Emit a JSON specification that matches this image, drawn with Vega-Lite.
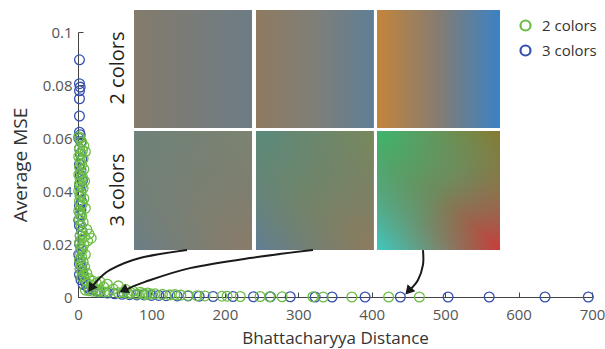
{
  "$schema": "https://vega.github.io/schema/vega-lite/v6.json",
  "width": 514,
  "height": 265,
  "autosize": {"type": "none"},
  "padding": {"left": 78, "top": 32, "right": 13, "bottom": 52},
  "background": "white",
  "config": {
    "view": {"stroke": null},
    "font": "Open Sans",
    "axis": {"grid": false, "domainColor": "#444", "tickColor": "#444", "labelColor": "#555", "titleColor": "#333", "labelFontSize": 15, "titleFontWeight": "normal", "labelFont": "Open Sans", "titleFont": "Open Sans"}
  },
  "datasets": {
    "pts": [
      {"series": "3 colors", "dist": 2, "mse": 0.0895},
      {"series": "3 colors", "dist": 2, "mse": 0.0805},
      {"series": "3 colors", "dist": 3, "mse": 0.0792},
      {"series": "3 colors", "dist": 2, "mse": 0.0778},
      {"series": "3 colors", "dist": 2, "mse": 0.0748},
      {"series": "3 colors", "dist": 2, "mse": 0.0683},
      {"series": "3 colors", "dist": 2, "mse": 0.0622},
      {"series": "3 colors", "dist": 3, "mse": 0.0612},
      {"series": "3 colors", "dist": 1, "mse": 0.06},
      {"series": "3 colors", "dist": 4, "mse": 0.0585},
      {"series": "3 colors", "dist": 2, "mse": 0.056},
      {"series": "3 colors", "dist": 3, "mse": 0.054},
      {"series": "3 colors", "dist": 5, "mse": 0.052},
      {"series": "3 colors", "dist": 2, "mse": 0.05},
      {"series": "3 colors", "dist": 4, "mse": 0.048},
      {"series": "3 colors", "dist": 3, "mse": 0.046},
      {"series": "3 colors", "dist": 6, "mse": 0.044},
      {"series": "3 colors", "dist": 2, "mse": 0.042},
      {"series": "3 colors", "dist": 4, "mse": 0.04},
      {"series": "3 colors", "dist": 3, "mse": 0.038},
      {"series": "3 colors", "dist": 5, "mse": 0.036},
      {"series": "3 colors", "dist": 2, "mse": 0.0345},
      {"series": "3 colors", "dist": 4, "mse": 0.033},
      {"series": "3 colors", "dist": 3, "mse": 0.031},
      {"series": "3 colors", "dist": 1, "mse": 0.029},
      {"series": "3 colors", "dist": 2, "mse": 0.027},
      {"series": "3 colors", "dist": 5, "mse": 0.025},
      {"series": "3 colors", "dist": 3, "mse": 0.023},
      {"series": "3 colors", "dist": 2, "mse": 0.02},
      {"series": "3 colors", "dist": 4, "mse": 0.018},
      {"series": "3 colors", "dist": 1, "mse": 0.016},
      {"series": "3 colors", "dist": 3, "mse": 0.014},
      {"series": "3 colors", "dist": 2, "mse": 0.0125},
      {"series": "3 colors", "dist": 5, "mse": 0.0115},
      {"series": "3 colors", "dist": 3, "mse": 0.0105},
      {"series": "3 colors", "dist": 6, "mse": 0.0095},
      {"series": "3 colors", "dist": 2, "mse": 0.0085},
      {"series": "3 colors", "dist": 8, "mse": 0.0075},
      {"series": "3 colors", "dist": 4, "mse": 0.0065},
      {"series": "3 colors", "dist": 10, "mse": 0.0055},
      {"series": "3 colors", "dist": 7, "mse": 0.0048},
      {"series": "3 colors", "dist": 12, "mse": 0.004},
      {"series": "3 colors", "dist": 15, "mse": 0.0032},
      {"series": "3 colors", "dist": 20, "mse": 0.0028},
      {"series": "3 colors", "dist": 25, "mse": 0.0022},
      {"series": "3 colors", "dist": 30, "mse": 0.0018},
      {"series": "3 colors", "dist": 40, "mse": 0.0015},
      {"series": "3 colors", "dist": 50, "mse": 0.0012},
      {"series": "3 colors", "dist": 60, "mse": 0.001},
      {"series": "3 colors", "dist": 70, "mse": 0.0009},
      {"series": "3 colors", "dist": 80, "mse": 0.0008},
      {"series": "3 colors", "dist": 90, "mse": 0.0008},
      {"series": "3 colors", "dist": 100, "mse": 0.0006},
      {"series": "3 colors", "dist": 110, "mse": 0.0006},
      {"series": "3 colors", "dist": 120, "mse": 0.0005},
      {"series": "3 colors", "dist": 135, "mse": 0.0004},
      {"series": "3 colors", "dist": 150, "mse": 0.0004},
      {"series": "3 colors", "dist": 165, "mse": 0.0003},
      {"series": "3 colors", "dist": 184, "mse": 0.0002},
      {"series": "3 colors", "dist": 211, "mse": 0.0002},
      {"series": "3 colors", "dist": 239, "mse": 0.0001},
      {"series": "3 colors", "dist": 262, "mse": 0.0001},
      {"series": "3 colors", "dist": 289, "mse": 0.0001},
      {"series": "3 colors", "dist": 323, "mse": 0.0},
      {"series": "3 colors", "dist": 346, "mse": 0.0},
      {"series": "3 colors", "dist": 391, "mse": 0.0},
      {"series": "3 colors", "dist": 439, "mse": 0.0},
      {"series": "3 colors", "dist": 504, "mse": 0.0},
      {"series": "3 colors", "dist": 560, "mse": 0.0},
      {"series": "3 colors", "dist": 636, "mse": 0.0},
      {"series": "3 colors", "dist": 695, "mse": 0.0},
      {"series": "2 colors", "dist": 1, "mse": 0.0605},
      {"series": "2 colors", "dist": 3, "mse": 0.0598},
      {"series": "2 colors", "dist": 5, "mse": 0.0585},
      {"series": "2 colors", "dist": 8, "mse": 0.057},
      {"series": "2 colors", "dist": 2, "mse": 0.056},
      {"series": "2 colors", "dist": 6, "mse": 0.0553},
      {"series": "2 colors", "dist": 10, "mse": 0.0548},
      {"series": "2 colors", "dist": 4, "mse": 0.054},
      {"series": "2 colors", "dist": 1, "mse": 0.053},
      {"series": "2 colors", "dist": 7, "mse": 0.0522},
      {"series": "2 colors", "dist": 3, "mse": 0.0512},
      {"series": "2 colors", "dist": 5, "mse": 0.05},
      {"series": "2 colors", "dist": 2, "mse": 0.049},
      {"series": "2 colors", "dist": 8, "mse": 0.0482},
      {"series": "2 colors", "dist": 4, "mse": 0.047},
      {"series": "2 colors", "dist": 1, "mse": 0.0462},
      {"series": "2 colors", "dist": 6, "mse": 0.0452},
      {"series": "2 colors", "dist": 3, "mse": 0.0445},
      {"series": "2 colors", "dist": 9, "mse": 0.0437},
      {"series": "2 colors", "dist": 2, "mse": 0.0428},
      {"series": "2 colors", "dist": 5, "mse": 0.042},
      {"series": "2 colors", "dist": 7, "mse": 0.041},
      {"series": "2 colors", "dist": 1, "mse": 0.04},
      {"series": "2 colors", "dist": 4, "mse": 0.0392},
      {"series": "2 colors", "dist": 3, "mse": 0.0382},
      {"series": "2 colors", "dist": 8, "mse": 0.0372},
      {"series": "2 colors", "dist": 2, "mse": 0.0362},
      {"series": "2 colors", "dist": 6, "mse": 0.0352},
      {"series": "2 colors", "dist": 4, "mse": 0.0343},
      {"series": "2 colors", "dist": 10, "mse": 0.0335},
      {"series": "2 colors", "dist": 1, "mse": 0.0325},
      {"series": "2 colors", "dist": 3, "mse": 0.0315},
      {"series": "2 colors", "dist": 5, "mse": 0.0305},
      {"series": "2 colors", "dist": 2, "mse": 0.0292},
      {"series": "2 colors", "dist": 7, "mse": 0.0282},
      {"series": "2 colors", "dist": 4, "mse": 0.027},
      {"series": "2 colors", "dist": 12, "mse": 0.0255},
      {"series": "2 colors", "dist": 6, "mse": 0.0245},
      {"series": "2 colors", "dist": 15, "mse": 0.0238},
      {"series": "2 colors", "dist": 3, "mse": 0.0232},
      {"series": "2 colors", "dist": 9, "mse": 0.0228},
      {"series": "2 colors", "dist": 18, "mse": 0.0222},
      {"series": "2 colors", "dist": 5, "mse": 0.0218},
      {"series": "2 colors", "dist": 13, "mse": 0.0212},
      {"series": "2 colors", "dist": 2, "mse": 0.0205},
      {"series": "2 colors", "dist": 8, "mse": 0.0198},
      {"series": "2 colors", "dist": 4, "mse": 0.0188},
      {"series": "2 colors", "dist": 6, "mse": 0.0178},
      {"series": "2 colors", "dist": 3, "mse": 0.0168},
      {"series": "2 colors", "dist": 10, "mse": 0.016},
      {"series": "2 colors", "dist": 5, "mse": 0.015},
      {"series": "2 colors", "dist": 2, "mse": 0.014},
      {"series": "2 colors", "dist": 7, "mse": 0.0132},
      {"series": "2 colors", "dist": 4, "mse": 0.0122},
      {"series": "2 colors", "dist": 9, "mse": 0.0114},
      {"series": "2 colors", "dist": 3, "mse": 0.0106},
      {"series": "2 colors", "dist": 6, "mse": 0.0098},
      {"series": "2 colors", "dist": 12, "mse": 0.009},
      {"series": "2 colors", "dist": 8, "mse": 0.0082},
      {"series": "2 colors", "dist": 5, "mse": 0.0075},
      {"series": "2 colors", "dist": 15, "mse": 0.007},
      {"series": "2 colors", "dist": 10, "mse": 0.0064},
      {"series": "2 colors", "dist": 20, "mse": 0.006},
      {"series": "2 colors", "dist": 30, "mse": 0.0058},
      {"series": "2 colors", "dist": 25, "mse": 0.0052},
      {"series": "2 colors", "dist": 40, "mse": 0.0048},
      {"series": "2 colors", "dist": 18, "mse": 0.0045},
      {"series": "2 colors", "dist": 55, "mse": 0.0042},
      {"series": "2 colors", "dist": 35, "mse": 0.0038},
      {"series": "2 colors", "dist": 22, "mse": 0.0034},
      {"series": "2 colors", "dist": 48, "mse": 0.003},
      {"series": "2 colors", "dist": 65, "mse": 0.0028},
      {"series": "2 colors", "dist": 10, "mse": 0.0026},
      {"series": "2 colors", "dist": 30, "mse": 0.0025},
      {"series": "2 colors", "dist": 15, "mse": 0.0024},
      {"series": "2 colors", "dist": 75, "mse": 0.0022},
      {"series": "2 colors", "dist": 20, "mse": 0.0022},
      {"series": "2 colors", "dist": 42, "mse": 0.002},
      {"series": "2 colors", "dist": 28, "mse": 0.002},
      {"series": "2 colors", "dist": 85, "mse": 0.0018},
      {"series": "2 colors", "dist": 36, "mse": 0.0019},
      {"series": "2 colors", "dist": 55, "mse": 0.0016},
      {"series": "2 colors", "dist": 62, "mse": 0.0018},
      {"series": "2 colors", "dist": 95, "mse": 0.0015},
      {"series": "2 colors", "dist": 68, "mse": 0.0013},
      {"series": "2 colors", "dist": 72, "mse": 0.0016},
      {"series": "2 colors", "dist": 105, "mse": 0.0012},
      {"series": "2 colors", "dist": 80, "mse": 0.0011},
      {"series": "2 colors", "dist": 88, "mse": 0.0013},
      {"series": "2 colors", "dist": 115, "mse": 0.001},
      {"series": "2 colors", "dist": 92, "mse": 0.0009},
      {"series": "2 colors", "dist": 100, "mse": 0.0011},
      {"series": "2 colors", "dist": 125, "mse": 0.0008},
      {"series": "2 colors", "dist": 132, "mse": 0.0009},
      {"series": "2 colors", "dist": 140, "mse": 0.0007},
      {"series": "2 colors", "dist": 150, "mse": 0.0006},
      {"series": "2 colors", "dist": 162, "mse": 0.0005},
      {"series": "2 colors", "dist": 173, "mse": 0.0004},
      {"series": "2 colors", "dist": 196, "mse": 0.0003},
      {"series": "2 colors", "dist": 203, "mse": 0.0003},
      {"series": "2 colors", "dist": 221, "mse": 0.0002},
      {"series": "2 colors", "dist": 248, "mse": 0.0002},
      {"series": "2 colors", "dist": 261, "mse": 0.0001},
      {"series": "2 colors", "dist": 278, "mse": 0.0001},
      {"series": "2 colors", "dist": 320, "mse": 0.0001},
      {"series": "2 colors", "dist": 334, "mse": 0.0},
      {"series": "2 colors", "dist": 373, "mse": 0.0},
      {"series": "2 colors", "dist": 423, "mse": 0.0},
      {"series": "2 colors", "dist": 465, "mse": 0.0}
    ],
    "panels": [
      {"panel": "tl", "x1": 76.3, "x2": 237, "y1": 0.0638, "y2": 0.1083},
      {"panel": "tm", "x1": 242.4, "x2": 403, "y1": 0.0638, "y2": 0.1083},
      {"panel": "tr", "x1": 407.2, "x2": 574.7, "y1": 0.0638, "y2": 0.1083},
      {"panel": "bl", "x1": 76.3, "x2": 237, "y1": 0.0177, "y2": 0.0626},
      {"panel": "bm", "x1": 242.4, "x2": 403, "y1": 0.0177, "y2": 0.0626},
      {"panel": "br", "x1": 407.2, "x2": 574.7, "y1": 0.0177, "y2": 0.0626}
    ],
    "rowlabels": [
      {"label": "2 colors", "x": 54.5, "y": 0.0864},
      {"label": "3 colors", "x": 54.5, "y": 0.0404}
    ],
    "arrows": [
      {"arrow": "a1", "k": 0, "x": 148.4, "y": 0.0177},
      {"arrow": "a1", "k": 1, "x": 84.4, "y": 0.0147},
      {"arrow": "a1", "k": 2, "x": 43.6, "y": 0.0102},
      {"arrow": "a1", "k": 3, "x": 23.2, "y": 0.0053},
      {"arrow": "a1", "k": 4, "x": 18.5, "y": 0.0035},
      {"arrow": "a2", "k": 0, "x": 320, "y": 0.0177},
      {"arrow": "a2", "k": 1, "x": 234, "y": 0.0147},
      {"arrow": "a2", "k": 2, "x": 152.5, "y": 0.0109},
      {"arrow": "a2", "k": 3, "x": 91.2, "y": 0.0057},
      {"arrow": "a2", "k": 4, "x": 64, "y": 0.0026},
      {"arrow": "a3", "k": 0, "x": 469.8, "y": 0.0177},
      {"arrow": "a3", "k": 1, "x": 469.8, "y": 0.0121},
      {"arrow": "a3", "k": 2, "x": 463, "y": 0.0064},
      {"arrow": "a3", "k": 3, "x": 451, "y": 0.0024}
    ],
    "heads": [
      {"arrow": "a1", "x": 17.5, "y": 0.0033},
      {"arrow": "a2", "x": 62, "y": 0.0025},
      {"arrow": "a3", "x": 450, "y": 0.0022}
    ]
  },
  "layer": [
    {
      "data": {"name": "panels"},
      "transform": [{"filter": "datum.panel == 'tl'"}],
      "mark": {"type": "rect", "fill": {"gradient": "linear", "x1": 0, "y1": 0, "x2": 1, "y2": 0, "stops": [{"offset": 0, "color": "#847b6c"}, {"offset": 1, "color": "#6d7c85"}]}},
      "encoding": {"x": {"field": "x1", "type": "quantitative", "scale": {"domain": [0, 700], "nice": false}}, "x2": {"field": "x2"}, "y": {"field": "y1", "type": "quantitative", "scale": {"domain": [0, 0.1], "nice": false}}, "y2": {"field": "y2"}}
    },
    {
      "data": {"name": "panels"},
      "transform": [{"filter": "datum.panel == 'tm'"}],
      "mark": {"type": "rect", "fill": {"gradient": "linear", "x1": 0, "y1": 0, "x2": 1, "y2": 0, "stops": [{"offset": 0, "color": "#8f7a60"}, {"offset": 0.5, "color": "#7f7f78"}, {"offset": 1, "color": "#5f7e96"}]}},
      "encoding": {"x": {"field": "x1", "type": "quantitative"}, "x2": {"field": "x2"}, "y": {"field": "y1", "type": "quantitative"}, "y2": {"field": "y2"}}
    },
    {
      "data": {"name": "panels"},
      "transform": [{"filter": "datum.panel == 'tr'"}],
      "mark": {"type": "rect", "fill": {"gradient": "linear", "x1": 0, "y1": 0, "x2": 1, "y2": 0, "stops": [{"offset": 0, "color": "#c4853a"}, {"offset": 0.5, "color": "#857c72"}, {"offset": 1, "color": "#3a82c4"}]}},
      "encoding": {"x": {"field": "x1", "type": "quantitative"}, "x2": {"field": "x2"}, "y": {"field": "y1", "type": "quantitative"}, "y2": {"field": "y2"}}
    },
    {
      "data": {"name": "panels"},
      "transform": [{"filter": "datum.panel == 'bl'"}],
      "mark": {"type": "rect", "fill": {"gradient": "linear", "x1": 0, "y1": 0, "x2": 1, "y2": 1, "stops": [{"offset": 0, "color": "#6e8279"}, {"offset": 0.5, "color": "#798073"}, {"offset": 1, "color": "#8a7b6a"}]}},
      "encoding": {"x": {"field": "x1", "type": "quantitative"}, "x2": {"field": "x2"}, "y": {"field": "y1", "type": "quantitative"}, "y2": {"field": "y2"}}
    },
    {
      "data": {"name": "panels"},
      "transform": [{"filter": "datum.panel == 'bl'"}],
      "mark": {"type": "rect", "fill": {"gradient": "linear", "x1": 0, "y1": 1, "x2": 1, "y2": 0, "stops": [{"offset": 0, "color": "rgba(100,124,142,0.7)"}, {"offset": 0.5, "color": "rgba(120,128,115,0)"}, {"offset": 1, "color": "rgba(128,134,108,0.5)"}]}},
      "encoding": {"x": {"field": "x1", "type": "quantitative"}, "x2": {"field": "x2"}, "y": {"field": "y1", "type": "quantitative"}, "y2": {"field": "y2"}}
    },
    {
      "data": {"name": "panels"},
      "transform": [{"filter": "datum.panel == 'bm'"}],
      "mark": {"type": "rect", "fill": {"gradient": "linear", "x1": 0, "y1": 0, "x2": 1, "y2": 1, "stops": [{"offset": 0, "color": "#5a8a7c"}, {"offset": 0.5, "color": "#728468"}, {"offset": 1, "color": "#8e7a5f"}]}},
      "encoding": {"x": {"field": "x1", "type": "quantitative"}, "x2": {"field": "x2"}, "y": {"field": "y1", "type": "quantitative"}, "y2": {"field": "y2"}}
    },
    {
      "data": {"name": "panels"},
      "transform": [{"filter": "datum.panel == 'bm'"}],
      "mark": {"type": "rect", "fill": {"gradient": "linear", "x1": 0, "y1": 1, "x2": 1, "y2": 0, "stops": [{"offset": 0, "color": "rgba(92,124,162,0.8)"}, {"offset": 0.5, "color": "rgba(110,130,110,0)"}, {"offset": 1, "color": "rgba(126,140,82,0.6)"}]}},
      "encoding": {"x": {"field": "x1", "type": "quantitative"}, "x2": {"field": "x2"}, "y": {"field": "y1", "type": "quantitative"}, "y2": {"field": "y2"}}
    },
    {
      "data": {"name": "panels"},
      "transform": [{"filter": "datum.panel == 'br'"}],
      "mark": {"type": "rect", "fill": {"gradient": "linear", "x1": 0, "y1": 0, "x2": 1, "y2": 1, "stops": [{"offset": 0, "color": "#3db66c"}, {"offset": 0.5, "color": "#6f8a5c"}, {"offset": 1, "color": "#c83c3a"}]}},
      "encoding": {"x": {"field": "x1", "type": "quantitative"}, "x2": {"field": "x2"}, "y": {"field": "y1", "type": "quantitative"}, "y2": {"field": "y2"}}
    },
    {
      "data": {"name": "panels"},
      "transform": [{"filter": "datum.panel == 'br'"}],
      "mark": {"type": "rect", "fill": {"gradient": "linear", "x1": 0, "y1": 1, "x2": 1, "y2": 0, "stops": [{"offset": 0, "color": "rgba(60,205,200,0.95)"}, {"offset": 0.5, "color": "rgba(100,150,110,0)"}, {"offset": 1, "color": "rgba(138,120,40,0.85)"}]}},
      "encoding": {"x": {"field": "x1", "type": "quantitative"}, "x2": {"field": "x2"}, "y": {"field": "y1", "type": "quantitative"}, "y2": {"field": "y2"}}
    },
    {
      "data": {"name": "rowlabels"},
      "mark": {"type": "text", "angle": 270, "fontSize": 20, "font": "Open Sans", "color": "#231f20", "align": "center", "baseline": "middle"},
      "encoding": {"x": {"field": "x", "type": "quantitative"}, "y": {"field": "y", "type": "quantitative"}, "text": {"field": "label"}}
    },
    {
      "data": {"name": "pts"},
      "mark": {"type": "point", "shape": "circle", "filled": false, "size": 95, "strokeWidth": 1.3, "opacity": 1},
      "encoding": {
        "x": {"field": "dist", "type": "quantitative", "scale": {"domain": [0, 700], "nice": false},
          "axis": {"title": "Bhattacharyya Distance", "titleFontSize": 17, "values": [0, 100, 200, 300, 400, 500, 600, 700], "tickSize": -5, "labelPadding": 15, "labelFlush": false, "titlePadding": 8}},
        "y": {"field": "mse", "type": "quantitative", "scale": {"domain": [0, 0.1], "nice": false},
          "axis": {"title": "Average MSE", "titleFontSize": 19, "values": [0, 0.02, 0.04, 0.06, 0.08, 0.1], "format": "~g", "tickSize": -5, "labelPadding": 11, "labelFlush": false, "titlePadding": 12}},
        "color": {"field": "series", "type": "nominal", "scale": {"domain": ["2 colors", "3 colors"], "range": ["#6cbd45", "#3650b0"]},
          "legend": {"title": null, "orient": "none", "legendX": 440, "legendY": -14, "symbolSize": 100, "symbolStrokeWidth": 2.2, "labelFontSize": 15, "labelColor": "#333", "rowPadding": 6, "labelOffset": 9, "labelFont": "Open Sans"}}
      }
    },
    {
      "data": {"name": "arrows"},
      "mark": {"type": "line", "interpolate": "cardinal", "color": "#1a1a1a", "strokeWidth": 2},
      "encoding": {"x": {"field": "x", "type": "quantitative"}, "y": {"field": "y", "type": "quantitative"}, "detail": {"field": "arrow"}, "order": {"field": "k"}}
    },
    {
      "data": {"name": "heads"},
      "transform": [{"filter": "datum.arrow == 'a1'"}],
      "mark": {"type": "point", "shape": "triangle-up", "filled": true, "color": "#1a1a1a", "size": 110, "angle": 215, "opacity": 1},
      "encoding": {"x": {"field": "x", "type": "quantitative"}, "y": {"field": "y", "type": "quantitative"}}
    },
    {
      "data": {"name": "heads"},
      "transform": [{"filter": "datum.arrow == 'a2'"}],
      "mark": {"type": "point", "shape": "triangle-up", "filled": true, "color": "#1a1a1a", "size": 110, "angle": 244, "opacity": 1},
      "encoding": {"x": {"field": "x", "type": "quantitative"}, "y": {"field": "y", "type": "quantitative"}}
    },
    {
      "data": {"name": "heads"},
      "transform": [{"filter": "datum.arrow == 'a3'"}],
      "mark": {"type": "point", "shape": "triangle-up", "filled": true, "color": "#1a1a1a", "size": 110, "angle": 222, "opacity": 1},
      "encoding": {"x": {"field": "x", "type": "quantitative"}, "y": {"field": "y", "type": "quantitative"}}
    }
  ]
}
